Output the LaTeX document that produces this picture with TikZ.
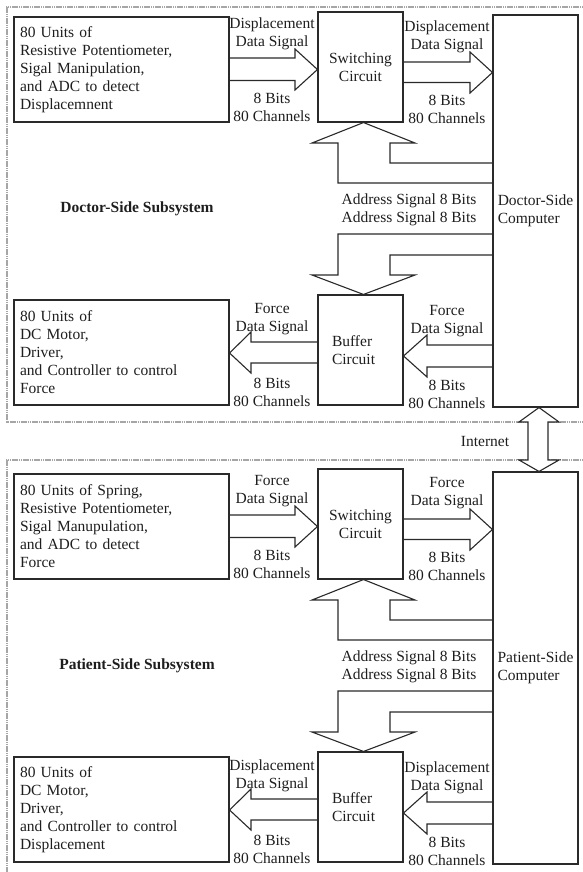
\documentclass[tikz,border=0pt]{standalone}
\usepackage{fontspec}
\setmainfont{Liberation Serif}
\usetikzlibrary{calc}
\definecolor{linec}{HTML}{2A2A2A}
\definecolor{txt}{HTML}{1E1E1E}
\newcommand\fs{\fontsize{15.5pt}{18pt}\selectfont}
\tikzset{
  box/.style={draw=linec, line width=1.1pt, inner sep=0pt, text=txt, font=\fs},
  bigbox/.style={box, minimum width=215pt, minimum height=105pt, text width=203pt, inner xsep=6pt, align=left},
  smallbox/.style={box, minimum width=85pt, minimum height=110pt},
  compbox/.style={box, minimum width=85pt, minimum height=392pt, align=left},
  blockarrow/.style={draw=linec, line width=1.1pt, line join=miter},
  lbl/.style={align=center, inner sep=0pt, text=txt, font=\fs},
  frame/.style={draw=gray!70, line width=1.2pt, dash pattern=on 1.6pt off 0.6pt},
}
\newcommand\panel[8]{%
\begin{scope}[shift={(0,#2)}]
  \node[bigbox] (A#1) at (121.5,69.5) {#3};
  \node[smallbox, align=center] (S#1) at (360.5,67) {Switching\\Circuit};
  \node[compbox] (C#1) at (535.5,211) {#5\\Computer};
  \node[smallbox, text width=57pt, inner xsep=14pt, align=left] (B#1) at (360.5,350) {Buffer\\Circuit};
  \node[bigbox] (D#1) at (121.5,352.5) {#4};
  % A -> S
  \draw[blockarrow] (A#1.east |- 0,58) -- (295,58) -- (295,49) -- (S#1.west |- 0,69.5)
     -- (295,90) -- (295,80.5) -- (A#1.east |- 0,80.5);
  % S -> C
  \draw[blockarrow] (S#1.east |- 0,62) -- (470,62) -- (470,52) -- (C#1.west |- 0,72.5)
     -- (470,93) -- (470,82.5) -- (S#1.east |- 0,82.5);
  % C -> S (address, up)
  \draw[blockarrow] (C#1.west |- 0,163) -- (390,163) -- (390,143) -- (415,143)
     -- (363.5,0 |- S#1.south) -- (312,143) -- (338,143) -- (338,183) -- (C#1.west |- 0,183);
  % C -> B (address, down)
  \draw[blockarrow] (C#1.west |- 0,234) -- (338,234) -- (338,275) -- (312,275)
     -- (363.5,0 |- B#1.north) -- (415,275) -- (390,275) -- (390,255) -- (C#1.west |- 0,255);
  % C -> B
  \draw[blockarrow] (C#1.west |- 0,345) -- (427,345) -- (427,335) -- (B#1.east |- 0,356)
     -- (427,377) -- (427,367) -- (C#1.west |- 0,367);
  % B -> D
  \draw[blockarrow] (B#1.west |- 0,342) -- (251,342) -- (251,332) -- (D#1.east |- 0,353)
     -- (251,373) -- (251,363) -- (B#1.west |- 0,363);
  % labels
  \node[lbl] (la#1) at (272,34) {#6\\Data Signal};
  \node[lbl] (lb#1) at (272,107.5) {8 Bits\\80 Channels};
  \node[lbl] (lc#1) at (447,36.5) {#6\\Data Signal};
  \node[lbl] (ld#1) at (447,109) {8 Bits\\80 Channels};
  \node[lbl] (le#1) at (409,209.5) {Address Signal 8 Bits\\Address Signal 8 Bits};
  \node[lbl] (lf#1) at (272,319) {#7\\Data Signal};
  \node[lbl] (lg#1) at (272,392.5) {8 Bits\\80 Channels};
  \node[lbl] (lh#1) at (447,321) {#7\\Data Signal};
  \node[lbl] (li#1) at (447,394) {8 Bits\\80 Channels};
  \node[lbl, font=\fs\bfseries] (sub#1) at (137,209) {#8};
\end{scope}}
\begin{document}
\begin{tikzpicture}[x=1pt,y=-1pt]
\useasboundingbox (0,0) rectangle (583,872);
\clip (0,0) rectangle (583,872);
\fill[white] (0,0) rectangle (583,872);
% frames
\draw[frame] (590,7) -- (7,7) -- (7,422) -- (590,422);
\draw[frame] (590,460) -- (7,460) -- (7,885);
\panel{1}{0}%
  {80 Units of\\Resistive Potentiometer,\\Sigal Manipulation,\\and ADC to detect\\Displacemnent}%
  {80 Units of\\DC Motor,\\Driver,\\and Controller to control\\Force}%
  {Doctor-Side}{Displacement}{Force}{Doctor-Side Subsystem}
\panel{2}{457}%
  {80 Units of Spring,\\Resistive Potentiometer,\\Sigal Manupulation,\\and ADC to detect\\Force}%
  {80 Units of\\DC Motor,\\Driver,\\and Controller to control\\Displacement}%
  {Patient-Side}{Force}{Displacement}{Patient-Side Subsystem}
% internet double arrow
\draw[blockarrow, fill=white] (539,0 |- C1.south) -- (559,422) -- (548,422) -- (548,460) -- (559,460)
   -- (539,0 |- C2.north) -- (519,460) -- (528,460) -- (528,422) -- (519,422) -- cycle;
\node[lbl] (inet) at (485,441) {Internet};
\end{tikzpicture}
\end{document}
